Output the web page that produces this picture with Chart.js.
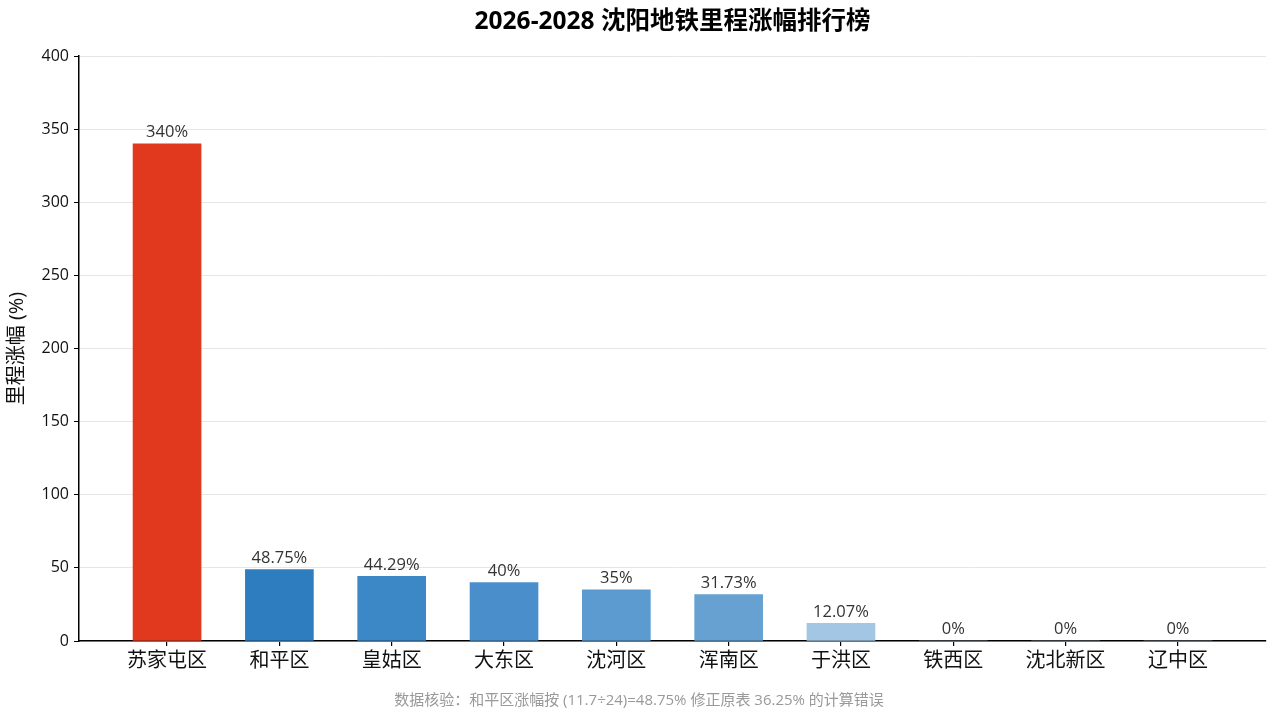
<!DOCTYPE html>
<html>
<head>
<meta charset="utf-8">
<script src="https://cdn.jsdelivr.net/npm/chart.js@4/dist/chart.umd.min.js"></script>
<style>
  html, body { margin: 0; padding: 0; background: #fff; }
</style>
</head>
<body>
<canvas id="grafico" width="1278" height="722"></canvas>
<script>
// datos
const distritos = ['苏家屯区', '和平区', '皇姑区', '大东区', '沈河区', '浑南区', '于洪区', '铁西区', '沈北新区', '辽中区'];
const subida = [340, 48.75, 44.29, 40, 35, 31.73, 12.07, 0, 0, 0];
const colores = ['#e0391e', '#2e7ebf', '#3c87c6', '#4a8fcb', '#5b9bd0', '#66a1d1', '#a3c6e5', '#c6dbef', '#c6dbef', '#c6dbef'];
const marcasY = [0, 50, 100, 150, 200, 250, 300, 350, 400];

const titulo = '2026-2028 沈阳地铁里程涨幅排行榜';
const nota = '数据核验：和平区涨幅按 (11.7÷24)=48.75% 修正原表 36.25% 的计算错误';
const fuente = '"Open Sans", "Noto Sans CJK SC", sans-serif';

// etiquetas encima de cada barra + título y nota al pie
const textos = {
  id: 'textos',
  afterDatasetsDraw(chart) {
    const ctx = chart.ctx;
    const meta = chart.getDatasetMeta(0);
    ctx.save();
    ctx.font = '16.5px ' + fuente;
    ctx.fillStyle = '#333';
    ctx.textAlign = 'center';
    ctx.textBaseline = 'bottom';
    meta.data.forEach((bar, i) => {
      ctx.fillText(subida[i] + '%', bar.x, bar.y - 3);
    });
    ctx.restore();
  },
  afterDraw(chart) {
    const ctx = chart.ctx;
    const area = chart.chartArea;
    ctx.save();
    ctx.textAlign = 'center';
    ctx.textBaseline = 'middle';
    ctx.fillStyle = '#000';
    ctx.font = 'bold 24.5px ' + fuente;
    ctx.fillText(titulo, (area.left + area.right) / 2, 22);
    ctx.fillStyle = '#999';
    ctx.font = '15px ' + fuente;
    ctx.fillText(nota, chart.width / 2, 701);
    ctx.restore();
  }
};

new Chart(document.getElementById('grafico'), {
  type: 'bar',
  data: {
    datasets: [{
      data: distritos.map((d, i) => ({ x: i, y: subida[i] })),
      backgroundColor: colores,
      borderWidth: 0,
      barThickness: 68
    }]
  },
  options: {
    responsive: false,
    animation: false,
    devicePixelRatio: 1,
    layout: { padding: { top: 56, right: 12, left: 0, bottom: 0 } },
    plugins: {
      legend: { display: false },
      tooltip: { enabled: false }
    },
    scales: {
      x: {
        type: 'linear',
        offset: false,
        min: -0.784,
        max: 9.784,
        afterBuildTicks: (eje) => { eje.ticks = distritos.map((d, i) => ({ value: i })); },
        afterFit: (eje) => { eje.height = 81; },
        ticks: {
          callback: (v) => distritos[v],
          font: { family: fuente, size: 20 },
          color: '#111',
          padding: 3,
          maxRotation: 0,
          autoSkip: false
        },
        grid: { offset: false, drawOnChartArea: false, drawTicks: true, tickLength: 5, tickColor: '#000', lineWidth: 1.2 },
        border: { color: '#000', width: 1.5 }
      },
      y: {
        min: 0,
        max: 400,
        afterBuildTicks: (eje) => { eje.ticks = marcasY.map(v => ({ value: v })); },
        afterFit: (eje) => { eje.width = 79; },
        ticks: {
          font: { family: fuente, size: 16 },
          color: '#111',
          padding: 5
        },
        title: {
          display: true,
          text: '里程涨幅 (%)',
          font: { family: fuente, size: 20 },
          color: '#111',
          padding: { top: 5, bottom: 4 }
        },
        grid: { color: '#e6e6e6', lineWidth: 1, tickLength: 5, tickColor: '#000' },
        border: { color: '#000', width: 1.5 }
      }
    }
  },
  plugins: [textos]
});
</script>
</body>
</html>
